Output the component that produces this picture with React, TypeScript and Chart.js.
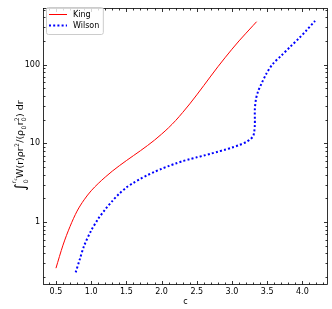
import React, { useEffect, useRef } from "react";
import { Chart, registerables } from "chart.js";

Chart.register(...registerables);

// ---- data ----
const kingC = [0.5, 0.6, 0.7, 0.8, 0.9, 1.0, 1.1, 1.2, 1.3, 1.4, 1.5, 1.6, 1.7, 1.8, 1.9, 2.0, 2.1, 2.2, 2.3, 2.4, 2.5, 2.6, 2.7, 2.8, 2.9, 3.0, 3.1, 3.2, 3.3, 3.35];
const kingV = [0.26, 0.51, 0.88, 1.38, 1.92, 2.5, 3.09, 3.73, 4.44, 5.2, 6.04, 6.98, 8.07, 9.38, 11.0, 13.1, 15.8, 19.5, 24.7, 31.7, 41.3, 54.3, 71.6, 94, 122, 157, 200, 251, 314, 351];

const wilsonC = [0.78, 0.84, 0.9, 1.0, 1.1, 1.2, 1.3, 1.4, 1.5, 1.6, 1.7, 1.8, 1.9, 2.0, 2.1, 2.2, 2.3, 2.4, 2.5, 2.6, 2.7, 2.8, 2.9, 3.0, 3.1, 3.2, 3.26, 3.3, 3.315, 3.325, 3.325, 3.325, 3.34, 3.37, 3.42, 3.49, 3.58, 3.7, 3.82, 3.96, 4.05, 4.18];
const wilsonV = [0.23, 0.34, 0.5, 0.78, 1.1, 1.45, 1.85, 2.3, 2.75, 3.15, 3.55, 3.95, 4.35, 4.75, 5.15, 5.55, 5.95, 6.3, 6.65, 7.0, 7.4, 7.85, 8.3, 8.85, 9.5, 10.4, 11.3, 12.3, 13.8, 17, 21, 27, 36, 45.5, 57.5, 77, 102, 130, 166, 220, 267, 360];

const seriesLabels = ["King", "Wilson"];
const xMajorTicks = [0.5, 1.0, 1.5, 2.0, 2.5, 3.0, 3.5, 4.0];
const yMajorTicks = [1, 10, 100];
const xTitle = "c";

const X_MIN = 0.316;
const X_MAX = 4.364;
const Y_MIN = 0.159;
const Y_MAX = 527;

const FONT = "'DejaVu Sans', sans-serif";

const framePlugin = {
  id: "mplFrame",
  afterDraw(chart: any) {
    const { ctx, chartArea: a, scales } = chart;
    const xs = scales.x;
    const ys = scales.y;
    ctx.save();
    ctx.strokeStyle = "#000";
    ctx.lineWidth = 0.8;
    const L = Math.round(a.left) + 0.5;
    const R = Math.round(a.right) - 0.5;
    const T = Math.round(a.top) + 0.5;
    const B = Math.round(a.bottom) - 0.5;
    ctx.strokeRect(L, T, R - L, B - T);

    const vtick = (px: number, len: number) => {
      const p = Math.round(px) + 0.5;
      ctx.beginPath();
      ctx.moveTo(p, B);
      ctx.lineTo(p, B - len);
      ctx.moveTo(p, T);
      ctx.lineTo(p, T + len);
      ctx.stroke();
    };
    const htick = (py: number, len: number) => {
      const p = Math.round(py) + 0.5;
      ctx.beginPath();
      ctx.moveTo(L, p);
      ctx.lineTo(L + len, p);
      ctx.moveTo(R, p);
      ctx.lineTo(R - len, p);
      ctx.stroke();
    };
    for (let i = 4; i <= 43; i++) {
      const v = i / 10;
      if (v < X_MIN || v > X_MAX) continue;
      if (i % 5 === 0) continue;
      vtick(xs.getPixelForValue(v), 2);
    }
    xMajorTicks.forEach((v) => vtick(xs.getPixelForValue(v), 3.5));
    for (let d = -1; d <= 2; d++) {
      for (let m = 2; m <= 9; m++) {
        const v = m * Math.pow(10, d);
        if (v < Y_MIN || v > Y_MAX) continue;
        htick(ys.getPixelForValue(v), 2);
      }
    }
    yMajorTicks.forEach((v) => htick(ys.getPixelForValue(v), 3.5));

    // x title
    ctx.fillStyle = "#000";
    ctx.font = `8px ${FONT}`;
    ctx.textAlign = "center";
    ctx.textBaseline = "middle";
    ctx.fillText(xTitle, (a.left + a.right) / 2, 302);

    // y title (mathtext-like)
    const s = 9.5;
    type Sub = { t: string; f: number; dy: number };
    type Piece = { t: string; f: number; dy: number; stackWith?: Sub[] };
    const pieces: Piece[] = [
      { t: "\u222B", f: 1.5, dy: 0.15 },
      { t: "0", f: 0.65, dy: 0.45, stackWith: [{ t: "r", f: 0.65, dy: -0.8 }, { t: "c", f: 0.45, dy: -0.65 }] },
      { t: "W(r)\u03C1r", f: 1, dy: 0 },
      { t: "2", f: 0.65, dy: -0.45 },
      { t: "/(\u03C1", f: 1, dy: 0 },
      { t: "0", f: 0.65, dy: 0.25 },
      { t: "r", f: 1, dy: 0 },
      { t: "0", f: 0.65, dy: 0.25, stackWith: [{ t: "2", f: 0.65, dy: -0.45 }] },
      { t: ") dr", f: 1, dy: 0 },
    ];
    const widthOf = (t: string, f: number) => {
      ctx.font = `${(s * f).toFixed(2)}px ${FONT}`;
      return ctx.measureText(t).width;
    };
    const pieceWidth = (p: Piece) => {
      const w0 = widthOf(p.t, p.f);
      if (!p.stackWith) return w0;
      let w1 = 0;
      p.stackWith.forEach((q) => (w1 += widthOf(q.t, q.f)));
      return Math.max(w0, w1);
    };
    let total = 0;
    pieces.forEach((p) => (total += pieceWidth(p) + 0.3));
    ctx.save();
    ctx.translate(20, (a.top + a.bottom) / 2 - 1);
    ctx.rotate(-Math.PI / 2);
    ctx.textAlign = "left";
    ctx.textBaseline = "alphabetic";
    let cx = -total / 2;
    const base = 0.36 * s;
    pieces.forEach((p) => {
      ctx.font = `${(s * p.f).toFixed(2)}px ${FONT}`;
      ctx.fillText(p.t, cx, base + p.dy * s);
      if (p.stackWith) {
        let sx = cx;
        p.stackWith.forEach((q) => {
          ctx.font = `${(s * q.f).toFixed(2)}px ${FONT}`;
          ctx.fillText(q.t, sx, base + q.dy * s);
          sx += ctx.measureText(q.t).width;
        });
      }
      cx += pieceWidth(p) + 0.3;
    });
    ctx.restore();

    // legend
    const lx = 46.5, ly = 7.5;
    ctx.font = `8px ${FONT}`;
    let maxTw = 0;
    chart.data.datasets.forEach((ds: any) => {
      maxTw = Math.max(maxTw, ctx.measureText(ds.label).width);
    });
    const lw = 26.5 + maxTw + 4;
    const lh = 27;
    const r = 2;
    ctx.beginPath();
    ctx.moveTo(lx + r, ly);
    ctx.lineTo(lx + lw - r, ly);
    ctx.quadraticCurveTo(lx + lw, ly, lx + lw, ly + r);
    ctx.lineTo(lx + lw, ly + lh - r);
    ctx.quadraticCurveTo(lx + lw, ly + lh, lx + lw - r, ly + lh);
    ctx.lineTo(lx + r, ly + lh);
    ctx.quadraticCurveTo(lx, ly + lh, lx, ly + lh - r);
    ctx.lineTo(lx, ly + r);
    ctx.quadraticCurveTo(lx, ly, lx + r, ly);
    ctx.closePath();
    ctx.fillStyle = "rgba(255,255,255,0.8)";
    ctx.fill();
    ctx.strokeStyle = "#cccccc";
    ctx.lineWidth = 1;
    ctx.stroke();
    chart.data.datasets.forEach((ds: any, i: number) => {
      const yy = 14.5 + i * 11;
      ctx.save();
      ctx.strokeStyle = ds.borderColor;
      ctx.lineWidth = ds.borderWidth;
      ctx.setLineDash(ds.borderDash || []);
      ctx.beginPath();
      ctx.moveTo(49, yy);
      ctx.lineTo(67, yy);
      ctx.stroke();
      ctx.restore();
      ctx.fillStyle = "#000";
      ctx.textAlign = "left";
      ctx.textBaseline = "middle";
      ctx.font = `8px ${FONT}`;
      ctx.fillText(ds.label, 73, yy);
    });
    ctx.restore();
  },
};

export default function App() {
  const ref = useRef<HTMLCanvasElement | null>(null);
  useEffect(() => {
    if (!ref.current) return;
    const chart = new Chart(ref.current, {
      type: "line",
      data: {
        datasets: [
          {
            label: seriesLabels[0],
            data: kingC.map((c, i) => ({ x: c, y: kingV[i] })),
            borderColor: "#ff0000",
            borderWidth: 1,
            pointRadius: 0,
            cubicInterpolationMode: "monotone",
            fill: false,
          },
          {
            label: seriesLabels[1],
            data: wilsonC.map((c, i) => ({ x: c, y: wilsonV[i] })),
            borderColor: "#0000ff",
            borderWidth: 2,
            borderDash: [2, 2.2],
            pointRadius: 0,
            tension: 0.3,
            fill: false,
          },
        ],
      },
      options: {
        responsive: false,
        animation: false,
        devicePixelRatio: 1,
        layout: { padding: { top: 4, right: 4, left: 0, bottom: 0 } },
        plugins: { legend: { display: false }, tooltip: { enabled: false } },
        scales: {
          x: {
            type: "linear",
            min: X_MIN,
            max: X_MAX,
            grid: { display: false, drawTicks: false, tickLength: 0 },
            border: { display: false },
            ticks: {
              padding: 2,
              font: { family: FONT, size: 8 },
              color: "#000",
              maxRotation: 0,
              callback: (v: any) => Number(v).toFixed(1),
            },
            afterBuildTicks: (scale: any) => {
              scale.ticks = xMajorTicks.map((v) => ({ value: v }));
            },
            afterFit: (scale: any) => {
              scale.height = 24;
            },
          },
          y: {
            type: "logarithmic",
            min: Y_MIN,
            max: Y_MAX,
            grid: { display: false, drawTicks: false, tickLength: 0 },
            border: { display: false },
            ticks: {
              padding: 3,
              font: { family: FONT, size: 8 },
              color: "#000",
              callback: (v: any) => String(v),
            },
            afterBuildTicks: (scale: any) => {
              scale.ticks = yMajorTicks.map((v) => ({ value: v }));
            },
            afterFit: (scale: any) => {
              scale.width = 43;
            },
          },
        },
      },
      plugins: [framePlugin],
    });
    return () => chart.destroy();
  }, []);
  return (
    <div style={{ position: "absolute", left: 0, top: 0, width: 332, height: 309, background: "#fff" }}>
      <canvas ref={ref} width={332} height={309} style={{ width: 332, height: 309 }} />
    </div>
  );
}
